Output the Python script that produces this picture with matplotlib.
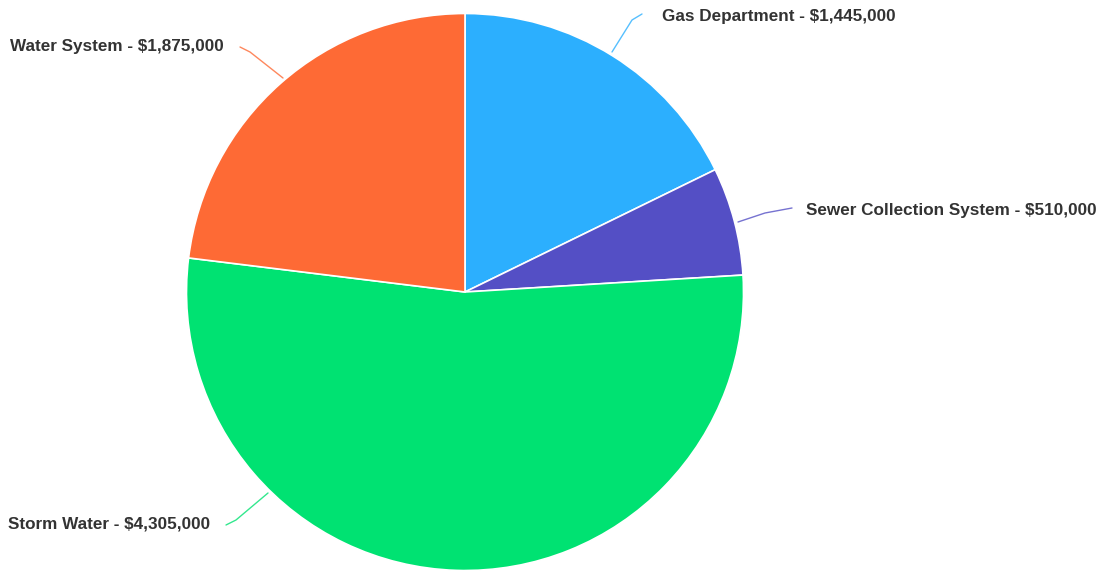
import matplotlib
matplotlib.use("Agg")
import matplotlib.pyplot as plt

categories = ["Gas Department", "Sewer Collection System", "Storm Water", "Water System"]
values = [1445000, 510000, 4305000, 1875000]
colors = ["#2caffe", "#544fc5", "#00e272", "#fe6a35"]

W, H = 1106, 574
fig = plt.figure(figsize=(W / 100, H / 100), dpi=100)
ax = fig.add_axes([0, 0, 1, 1])

cx, cy, r = 465, H - 292, 278.5
ax.pie(values, colors=colors, startangle=90, counterclock=False,
       center=(cx, cy), radius=r, frame=True,
       wedgeprops=dict(edgecolor="white", linewidth=1.2))
ax.set_xlim(0, W)
ax.set_ylim(0, H)
ax.set_aspect("equal")
ax.axis("off")

# label layout (pixel coordinates from top-left)
label_pos = [(662, 16), (806, 210), (8, 524), (10, 47)]
connectors = [
    [(612, 52), (632, 20), (642, 14)],
    [(738, 222), (765, 213), (792, 208)],
    [(268, 493), (236, 520), (226, 525)],
    [(283, 78), (250, 52), (240, 47)],
]

for i, (cat, v) in enumerate(zip(categories, values)):
    tx, ty = label_pos[i]
    ax.text(tx, H - ty, f"{cat} - ${v:,.0f}", ha="left", va="center",
            fontsize=12.3, fontweight="bold", family="Liberation Sans",
            color="#333333")
    xs = [p[0] for p in connectors[i]]
    ys = [H - p[1] for p in connectors[i]]
    ax.plot(xs, ys, color=colors[i], lw=1.0, alpha=0.8, solid_capstyle="round")

fig.savefig("out.png", dpi=100, facecolor="white")
